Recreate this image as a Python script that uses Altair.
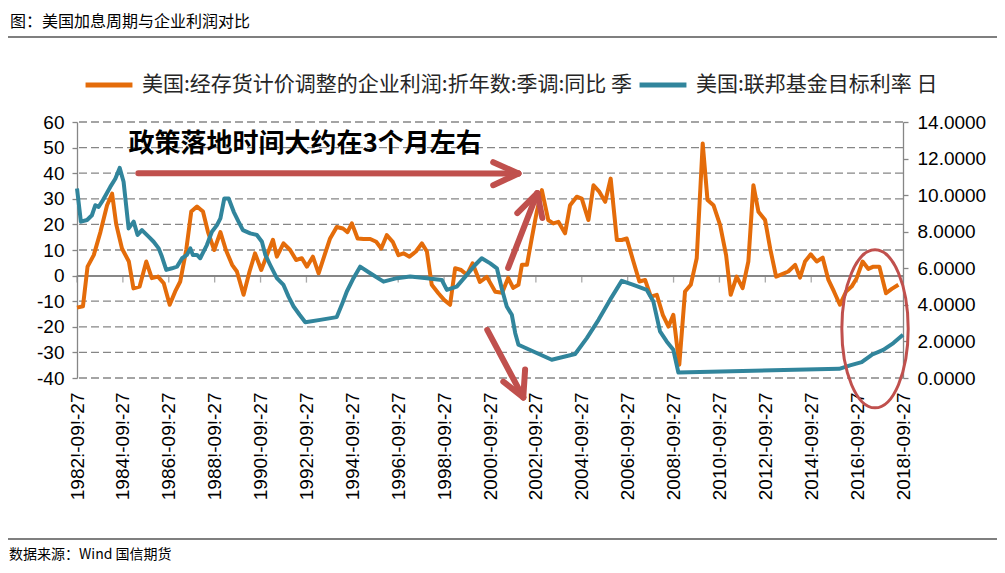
import altair as alt
import pandas as pd

# ---------------- data ----------------
PROFIT = "美国:经存货计价调整的企业利润:折年数:季调:同比 季"
RATE = "美国:联邦基金目标利率 日"
TITLE = "图：美国加息周期与企业利润对比"
SOURCE = "数据来源：Wind 国信期货"
NOTE = "政策落地时间大约在3个月左右"

profit_year = [
    1982.74, 1983.0, 1983.2, 1983.47, 1983.76, 1984.05, 1984.27, 1984.45, 1984.7, 1985.0,
    1985.2, 1985.47, 1985.76, 1986.0, 1986.27, 1986.52, 1986.78, 1987.02, 1987.24, 1987.5,
    1987.72, 1987.97, 1988.23, 1988.45, 1988.72, 1988.99, 1989.23, 1989.5, 1989.71, 1990.0,
    1990.26, 1990.5, 1990.77, 1991.02, 1991.28, 1991.45, 1991.74, 1992.03, 1992.29, 1992.54,
    1992.76, 1993.02, 1993.27, 1993.53, 1993.77, 1994.06, 1994.33, 1994.53, 1994.72, 1994.97,
    1995.23, 1995.52, 1995.78, 1996.0, 1996.24, 1996.5, 1996.75, 1996.97, 1997.23, 1997.51,
    1997.77, 1997.99, 1998.2, 1998.49, 1998.74, 1999.0, 1999.22, 1999.48, 1999.73, 1999.98,
    2000.3, 2000.6, 2000.97, 2001.27, 2001.53, 2001.75, 2001.98, 2002.13, 2002.35, 2002.57,
    2002.78, 2003.0, 2003.28, 2003.5, 2003.72, 2004.01, 2004.23, 2004.52, 2004.74, 2005.03,
    2005.25, 2005.51, 2005.76, 2006.0, 2006.27, 2006.48, 2006.7, 2006.99, 2007.25, 2007.5,
    2007.75, 2008.01, 2008.27, 2008.52, 2008.73, 2008.99, 2009.24, 2009.49, 2009.75, 2010.01,
    2010.22, 2010.48, 2010.77, 2011.03, 2011.23, 2011.49, 2011.75, 2012.0, 2012.22, 2012.44,
    2012.73, 2012.95, 2013.21, 2013.45, 2013.74, 2014.04, 2014.25, 2014.47, 2014.72, 2014.98,
    2015.24, 2015.49, 2015.73, 2015.99, 2016.26, 2016.5, 2016.72, 2016.98, 2017.23, 2017.45,
    2017.71, 2018.0, 2018.25, 2018.54,
]
profit_yoy = [
    -12.5, -12.0, 3.5, 8.0, 17.0, 27.5, 32.0, 20.0, 10.6, 5.5,
    -5.0, -4.3, 5.5, -1.0, -0.4, -3.0, -11.4, -6.2, -2.3, 10.0,
    25.0, 27.0, 25.0, 17.0, 10.0, 17.0, 10.0, 4.2, 1.6, -7.5,
    1.6, 8.7, 2.2, 8.0, 14.0, 7.4, 12.6, 10.0, 6.1, 6.8,
    3.5, 7.4, 0.9, 8.0, 14.5, 19.0, 18.4, 17.0, 20.4, 14.5,
    14.3, 14.3, 13.2, 10.6, 15.8, 13.2, 8.0, 8.7, 7.4, 9.4,
    12.6, 9.4, -3.6, -6.9, -9.5, -11.4, 2.9, 2.2, 0.3, 4.8,
    -2.5, -0.5, -6.3, -6.7, -0.9, -4.8, -3.6, 4.2, 4.2, 15.0,
    25.0, 33.4, 21.7, 20.4, 21.0, 16.5, 27.5, 30.8, 30.1, 21.7,
    35.3, 32.7, 28.8, 37.9, 13.9, 13.9, 14.5, 5.5, -2.3, -1.7,
    -8.2, -7.5, -15.3, -19.9, -15.3, -34.8, -6.2, -3.6, 6.8, 51.6,
    29.5, 27.5, 19.7, 8.0, -7.5, -0.4, -4.9, 5.5, 35.3, 24.9,
    21.7, 10.6, -0.4, 0.5, 1.6, 4.2, -0.8, 5.5, 8.3, 5.5,
    7.0, -1.7, -6.2, -11.4, -6.2, -4.3, -1.0, 5.5, 2.6, 3.5,
    3.5, -6.9, -5.2, -3.6,
]

rate_year = [
    1982.74, 1982.91, 1983.18, 1983.39, 1983.54, 1983.68, 1983.83, 1984.19, 1984.41, 1984.6,
    1984.77, 1984.99, 1985.21, 1985.38, 1985.57, 1985.86, 1986.08, 1986.3, 1986.44, 1986.63,
    1986.88, 1987.1, 1987.32, 1987.53, 1987.68, 1987.79, 1987.97, 1988.11, 1988.4, 1988.62,
    1988.84, 1988.99, 1989.16, 1989.35, 1989.57, 1989.78, 1989.97, 1990.29, 1990.58, 1990.8,
    1990.95, 1991.16, 1991.45, 1991.74, 1991.96, 1992.18, 1992.44, 1992.69, 1993.34, 1994.06,
    1994.28, 1994.5, 1994.79, 1995.08, 1995.52, 1996.1, 1996.68, 1997.26, 1997.99, 1998.64,
    1998.86, 1999.29, 1999.73, 2000.09, 2000.38, 2000.75, 2001.04, 2001.25, 2001.47, 2001.69,
    2001.84, 2001.98, 2002.63, 2003.43, 2004.45, 2004.96, 2005.47, 2005.97, 2006.48, 2006.99,
    2007.57, 2007.86, 2008.15, 2008.44, 2008.73, 2008.95, 2015.96, 2016.43, 2016.94, 2017.38,
    2017.88, 2018.32, 2018.74,
]
fed_rate = [
    10.36, 8.55, 8.64, 8.9, 9.45, 9.36, 9.64, 10.45, 10.9, 11.49,
    10.73, 8.18, 8.55, 7.82, 8.09, 7.73, 7.45, 7.09, 6.64, 5.91,
    6.0, 6.09, 6.55, 6.73, 7.09, 6.73, 6.73, 6.55, 7.27, 8.0,
    8.36, 8.73, 9.82, 9.82, 9.09, 8.55, 8.09, 7.91, 7.82, 7.45,
    6.73, 6.18, 5.46, 5.09, 4.45, 3.91, 3.46, 3.05, 3.18, 3.33,
    4.0, 4.73, 5.46, 6.09, 5.73, 5.27, 5.46, 5.55, 5.46, 5.36,
    4.82, 5.0, 5.64, 6.18, 6.55, 6.27, 6.0, 4.91, 3.91, 3.46,
    2.45, 1.82, 1.45, 1.0, 1.31, 2.18, 3.18, 4.27, 5.31, 5.09,
    4.82, 4.18, 2.55, 2.0, 1.54, 0.3, 0.5, 0.69, 0.87, 1.27,
    1.54, 1.91, 2.36,
]

label_years = list(range(1982, 2019, 2))
left_ticks = list(range(-40, 61, 10))
right_ticks = list(range(0, 15, 2))

# annotation anchors, in (year, left-axis value) units
arrow_x1 = [1985.41, 2000.88, 2000.88, 2001.53, 2001.93, 2003.02, 2000.62, 2001.32, 2002.27]
arrow_y1 = [40.0, 44.3, 35.3, 3.0, 24.4, 22.5, -21.2, -41.4, -36.7]
arrow_x2 = [2001.98, 2001.98, 2001.98, 2002.80, 2002.80, 2002.80, 2002.19, 2002.19, 2002.19]
arrow_y2 = [39.9, 39.9, 39.9, 32.2, 32.2, 32.2, -47.6, -47.6, -47.6]
note_at = (1984.98, 51.3)
ellipse_at = (2017.52, -20.8)

# ---------------- styling ----------------
ORANGE = "#E46C0A"
TEAL = "#31859C"
RED = "#C0504D"
GREY = "#868686"
NUMFONT = "Liberation Sans"
CJK = "Noto Sans CJK SC"
W, H = 826, 256

df_p = pd.DataFrame({"t": profit_year, "v": profit_yoy, "s": PROFIT})
df_r = pd.DataFrame({"t": rate_year, "v": fed_rate, "s": RATE})
tick_pos = [y + 0.74 for y in label_years]
df_ticks = pd.DataFrame({"t": tick_pos, "v": [0] * len(tick_pos)})
df_grid = pd.DataFrame({"g": [v for v in left_ticks if v != 0]})
df_arrows = pd.DataFrame({"x1": arrow_x1, "y1": arrow_y1, "x2": arrow_x2, "y2": arrow_y2})

xs = alt.Scale(domain=[1982.74, 2018.74], nice=False, zero=False)
ys_left = alt.Scale(domain=[-40, 60], nice=False, zero=False)
ys_right = alt.Scale(domain=[0, 14], nice=False, zero=False)
color_scale = alt.Scale(domain=[PROFIT, RATE], range=[ORANGE, TEAL])
legend = alt.Legend(
    title=None, orient="none", legendX=6, legendY=-63, direction="horizontal",
    symbolType="stroke", symbolSize=2200, symbolStrokeWidth=5,
    labelFontSize=21, labelFont=CJK, labelColor="#262626", labelLimit=700,
    columnPadding=-4, labelOffset=7, padding=0,
)

x_axis = alt.Axis(
    values=tick_pos, labelExpr="floor(datum.value) + '!-09!-27'",
    labelAngle=270, labelAlign="right", labelBaseline="middle",
    labelFont=NUMFONT, labelFontSize=19, labelColor="#000000", labelPadding=14,
    domain=False, ticks=False, tickSize=0, grid=False, title=None,
)
left_axis = alt.Axis(
    values=left_ticks, labelExpr="'' + datum.value", title=None,
    labelFont=NUMFONT, labelFontSize=19, labelColor="#000000", labelPadding=8,
    domainColor=GREY, domainWidth=1.3, tickColor=GREY, tickWidth=1.3, tickSize=5,
    grid=False,
)
right_axis = alt.Axis(
    values=right_ticks, format=".4f", title=None, orient="right",
    labelFont=NUMFONT, labelFontSize=19, labelColor="#000000", labelPadding=9,
    domainColor=GREY, domainWidth=1.3, tickColor=GREY, tickWidth=1.3, tickSize=5,
    grid=False,
)

X = lambda f: alt.X(f, scale=xs, axis=x_axis)
YL = lambda f: alt.Y(f, scale=ys_left, axis=left_axis)

grid = alt.Chart(df_grid).mark_rule(color=GREY, strokeWidth=1.3, strokeDash=[8, 4]).encode(
    y=YL("g:Q")
)
zero_rule = alt.Chart(df_ticks).mark_rule(color=GREY, strokeWidth=1.3).encode(
    y=YL("v:Q")
)
zero_ticks = alt.Chart(df_ticks).mark_tick(
    orient="vertical", color=GREY, thickness=1.3, size=7, yOffset=3.5
).encode(x=X("t:Q"), y=YL("v:Q"))
profit_line = alt.Chart(df_p).mark_line(strokeWidth=4, strokeJoin="round").encode(
    x=X("t:Q"),
    y=YL("v:Q"),
    color=alt.Color("s:N", scale=color_scale, legend=legend),
)
left = alt.layer(grid, zero_rule, zero_ticks, profit_line)

rate_line = alt.Chart(df_r).mark_line(strokeWidth=4, strokeJoin="round").encode(
    x=X("t:Q"),
    y=alt.Y("v:Q", scale=ys_right, axis=right_axis),
    color=alt.Color("s:N", scale=color_scale, legend=legend),
)

YA = lambda f: alt.Y(f, scale=ys_left, axis=None)
arrows = alt.Chart(df_arrows).mark_rule(color=RED, strokeWidth=6, strokeCap="round").encode(
    x=X("x1:Q"), y=YA("y1:Q"), x2="x2:Q", y2="y2:Q",
)
note = alt.Chart(pd.DataFrame({"x": [note_at[0]], "y": [note_at[1]], "txt": [NOTE]})).mark_text(
    align="left", baseline="middle", fontSize=26, font=CJK, fontWeight="bold", color="#000000"
).encode(x=X("x:Q"), y=YA("y:Q"), text="txt:N")
ellipse = alt.Chart(pd.DataFrame({"x": [ellipse_at[0]], "y": [ellipse_at[1]]})).mark_point(
    shape="M 0 -1 A 0.42 1 0 1 1 0 1 A 0.42 1 0 1 1 0 -1 Z",
    size=24964, filled=False, stroke=RED, strokeWidth=3, opacity=1,
).encode(x=X("x:Q"), y=YA("y:Q"))
annot = alt.layer(arrows, note, ellipse)

title_txt = alt.Chart(pd.DataFrame({"txt": [TITLE]})).mark_text(
    align="left", baseline="middle", fontSize=16, font=CJK, color="#000000"
).encode(x=alt.value(-67), y=alt.value(-100), text="txt:N")
source_txt = alt.Chart(pd.DataFrame({"txt": [SOURCE]})).mark_text(
    align="left", baseline="middle", fontSize=14, font=CJK, color="#000000"
).encode(x=alt.value(-68), y=alt.value(433), text="txt:N")
top_line = alt.Chart(pd.DataFrame({"a": [0]})).mark_rule(color="#000000", strokeWidth=1.2).encode(
    x=alt.value(-69), x2=alt.value(920), y=alt.value(-85)
)
bottom_line = alt.Chart(pd.DataFrame({"a": [0]})).mark_rule(color="#000000", strokeWidth=1.2).encode(
    x=alt.value(-69), x2=alt.value(920), y=alt.value(417)
)

chart = alt.layer(
    left, rate_line, annot, title_txt, source_txt, top_line, bottom_line
).resolve_scale(y="independent").properties(
    width=W, height=H,
    autosize=alt.AutoSizeParams(type="none"),
    padding={"left": 69, "top": 114, "right": 94, "bottom": 187},
    background="white",
).configure_view(stroke=None)

chart.save("out.html", embed_options={"renderer": "svg", "actions": False})
